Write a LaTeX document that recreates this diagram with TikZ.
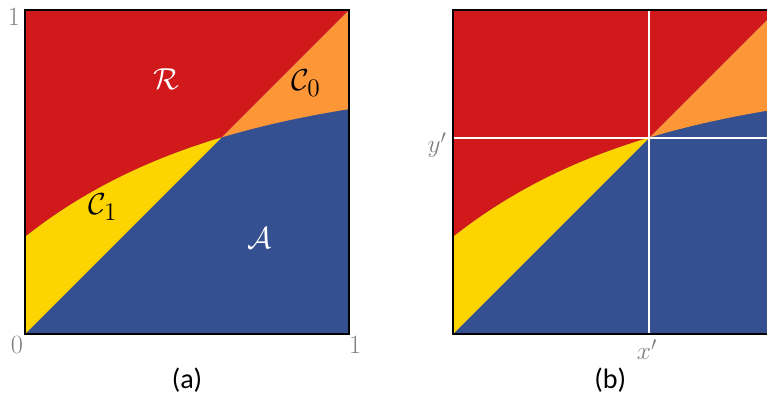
\documentclass[tikz,border=0pt]{standalone}
\usepackage{amsmath,amssymb}
\usepackage{fontspec}
\newfontfamily\capfont{Carlito}
\usepackage{xcolor}
\usepackage{tikz}
\usetikzlibrary{calc}

\definecolor{regred}{RGB}{209,24,26}
\definecolor{regorange}{RGB}{253,150,55}
\definecolor{regyellow}{RGB}{254,212,0}
\definecolor{regblue}{RGB}{52,80,145}

\begin{document}
\begin{tikzpicture}[
        x=6.48cm, y=6.48cm,
        frame/.style={draw=black, line width=0.7pt},
        tick/.style={text=gray, font=\fontsize{15}{18}\selectfont, inner sep=0pt},
        region/.style={font=\fontsize{19}{22}\selectfont, inner sep=0pt},
        caption/.style={font=\capfont\fontsize{16}{19}\selectfont, inner sep=0pt},
        cut/.style={draw=white, line width=1.6pt},
        declare function={bnd(\x)=0.3+0.494*(1-exp(-1.6*\x));}
    ]
        \clip (-0.0772,-0.185) rectangle (2.290,1.031);
        \useasboundingbox (-0.0772,-0.185) rectangle (2.290,1.031);
        % both panels share the same regions
        \foreach \ox in {0,1.321} {
            \begin{scope}[xshift=\ox*6.48cm]
                \fill[regblue] (0,0) rectangle (1,1);
                \fill[regred] (0,1) -- plot[domain=0:0.607, samples=40] (\x,{bnd(\x)}) -- (1,1) -- cycle;
                \fill[regyellow] (0,0) -- plot[domain=0:0.607, samples=40] (\x,{bnd(\x)}) -- cycle;
                \fill[regorange] (1,1) -- plot[domain=0.607:1, samples=30] (\x,{bnd(\x)}) -- cycle;
            \end{scope}
        }
        % panel (a)
        \node[region, text=white] (rlab) at (0.435,0.787) {$\mathcal{R}$};
        \node[region] (c0lab) at (0.867,0.775) {$\mathcal{C}_0$};
        \node[region] (c1lab) at (0.240,0.392) {$\mathcal{C}_1$};
        \node[region, text=white] (alab) at (0.725,0.296) {$\mathcal{A}$};
        \draw[frame] (0,0) rectangle (1,1);
        \node[tick] (top1) at (-0.034,0.979) {1};
        \node[tick] (zero) at (-0.025,-0.034) {0};
        \node[tick] (right1) at (1.019,-0.034) {1};
        \node[caption] (capa) at (0.5,-0.142) {(a)};
        % panel (b)
        \coordinate (pb) at (1.321,0);
        \draw[cut] ($(pb)+(0.605,0)$) -- ($(pb)+(0.605,1)$);
        \draw[cut] ($(pb)+(0,0.605)$) -- ($(pb)+(1,0.605)$);
        \draw[frame] (pb) rectangle ($(pb)+(1,1)$);
        \node[tick] (ylab) at ($(pb)+(-0.049,0.583)$) {$y'$};
        \node[tick] (xlab) at ($(pb)+(0.599,-0.049)$) {$x'$};
        \node[caption] (capb) at ($(pb)+(0.485,-0.142)$) {(b)};
    \end{tikzpicture}
\end{document}
